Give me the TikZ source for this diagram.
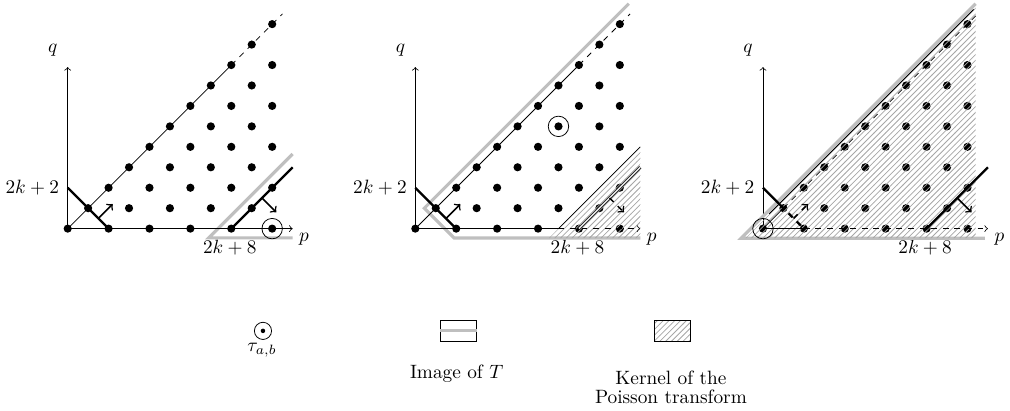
\documentclass[tikz,border=0pt]{standalone}
\usetikzlibrary{patterns}
\begin{document}
\begin{tikzpicture}[x=10.6pt,y=10.6pt,
  ax/.style={line width=0.4pt},
  wall/.style={line width=1.2pt},
  push/.style={line width=0.8pt,->},
  imgT/.style={draw=imgColor,line width=1.6pt},
  kern/.style={pattern=north east lines,pattern color=hatchColor},
  lbl/.style={inner sep=0pt,outer sep=0pt}]
\definecolor{imgColor}{gray}{0.75}
\definecolor{hatchColor}{gray}{0.65}
\path[use as bounding box] (-3.31,-8.91) rectangle (46.08,11.18);

% common part of the three panels
\foreach \ox [count=\i] in {0,17,34}{
\begin{scope}[shift={(\ox,0)}]
\draw[ax,->] (0,0) -- (0,7.9);
\foreach \p in {0,...,10}
  \foreach \q in {0,...,\p}{
    \pgfmathtruncatemacro\odd{mod(\p+\q,2)}
    \ifnum\odd=0 \fill (\p,\q) circle (0.2); \fi
  }
\node[lbl] (q\i) at (-0.73,8.7) {$q$};
\node[lbl] (p\i) at (11.56,-0.5) {$p$};
\node[lbl,anchor=east] (lo\i) at (-0.42,2.0) {$2k+2$};
\node[lbl] (hi\i) at (7.93,-0.95) {$2k+8$};
\end{scope}
}

% panel 1
\begin{scope}
\draw[imgT] (11,3.65) -- (6.9,-0.45) -- (11,-0.45);
\draw[ax,->] (0,0) -- (11,0);
\draw[ax] (0,0) -- (8,8);
\draw[ax,dashed] (8,8) -- (10.5,10.5);
\draw[wall] (0,2) -- (2,0);
\draw[push] (1.5,0.5) -- (2.2,1.2);
\draw[wall] (8,0) -- (11,3);
\draw[push] (9.5,1.5) -- (10.2,0.8);
\draw[ax] (10,0) circle (0.5);
\end{scope}

% panel 2
\begin{scope}[shift={(17,0)}]
\draw[imgT] (10.44,11) -- (0.44,1) -- (1.9,-0.46) -- (11,-0.46);
\fill[kern] (6.54,-0.46) -- (11,-0.46) -- (11,4) -- cycle;
\draw[ax] (7,0) -- (11,4);
\draw[ax] (0,0) -- (7,0);
\draw[ax,dashed,->] (7,0) -- (11,0);
\draw[ax] (0,0) -- (8,8);
\draw[ax,dashed] (8,8) -- (10.5,10.5);
\draw[wall] (0,2) -- (2,0);
\draw[push] (1.5,0.5) -- (2.2,1.2);
\draw[ax,double=gray!25,double distance=0.8pt] (8,0) -- (11,3);
\draw[push,dashed] (9.5,1.5) -- (10.2,0.8);
\draw[ax] (7,5) circle (0.5);
\end{scope}

% panel 3
\begin{scope}[shift={(34,0)}]
\draw[imgT] (10.4,11) -- (-1.07,-0.47) -- (10.85,-0.47);
\fill[kern] (-0.85,-0.47) -- (10.4,-0.47) -- (10.4,10.83) -- cycle;
\draw[ax] (0.3,0.72) -- (10.3,10.72);
\draw[ax] (0,0) -- (2,0);
\draw[ax,dashed,->] (2,0) -- (11,0);
\draw[ax] (0,0) -- (1,1);
\draw[ax,dashed] (1,1) -- (10.5,10.5);
\draw[wall] (0,2) -- (0.85,1.15);
\draw[wall,dashed] (0.85,1.15) -- (2,0);
\draw[push,dashed] (1.5,0.5) -- (2.2,1.2);
\draw[wall] (8,0) -- (11,3);
\draw[push] (9.5,1.5) -- (10.2,0.8);
\draw[ax] (0,0) circle (0.5);
\end{scope}

% legend
\draw[ax] (9.55,-5.0) circle (0.42);
\fill (9.55,-5.0) circle (0.11);
\node[lbl] (tau) at (9.5,-5.93) {$\tau_{a,b}$};
\node[draw,line width=0.4pt,minimum width=1.76*10.6pt,minimum height=10.6pt,inner sep=0pt] (imgbox) at (19.12,-5.0) {};
\draw[imgT] (imgbox.west) -- (imgbox.east);
\node[lbl] (imgtext) at (19.02,-7.1) {Image of $T$};
\node[draw,kern,line width=0.4pt,minimum width=1.76*10.6pt,minimum height=10.6pt,inner sep=0pt] (kerbox) at (29.56,-5.0) {};
\node[lbl,align=center] (kertext) at (29.5,-7.76) {Kernel of the\\[-2.3pt]Poisson transform};
\end{tikzpicture}
\end{document}
